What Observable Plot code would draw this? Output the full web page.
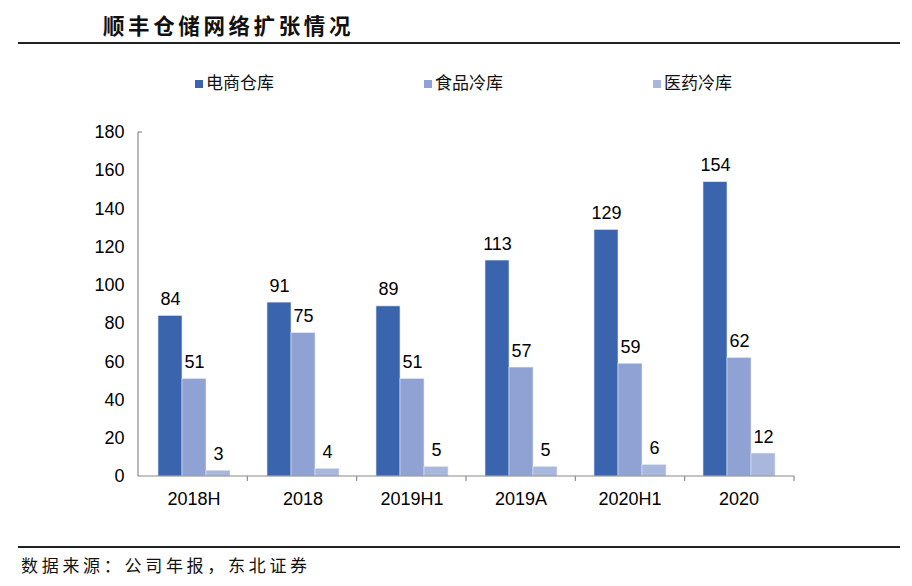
<!DOCTYPE html>
<html>
<head>
<meta charset="utf-8">
<script src="https://cdn.jsdelivr.net/npm/d3@7"></script>
<script src="https://cdn.jsdelivr.net/npm/@observablehq/plot@0.6"></script>
<style>
  html, body { margin: 0; padding: 0; background: #fff; }
  #wrap { position: relative; width: 912px; height: 586px; overflow: hidden; background: #fff; }
  .title { position: absolute; left: 103px; top: 10px; font-family: "Noto Sans CJK SC", sans-serif; font-weight: 700; font-size: 21.5px; letter-spacing: 3.6px; color: #111; line-height: 30px; white-space: nowrap; }
  .hline { position: absolute; left: 18px; width: 882px; background: #222; }
  .source { position: absolute; left: 21px; top: 553px; font-family: "Noto Sans CJK SC", sans-serif; font-size: 17px; letter-spacing: 3.7px; color: #111; line-height: 24px; white-space: nowrap; }
  .legend { position: absolute; top: 71px; font-family: "Noto Sans CJK SC", sans-serif; font-size: 17px; color: #111; line-height: 22px; white-space: nowrap; }
  .legend span.sw { display: inline-block; width: 8px; height: 8px; margin-right: 3px; vertical-align: 1px; }
  #chart { position: absolute; left: 0; top: 100px; }
</style>
</head>
<body>
<div id="wrap">
  <div class="title">顺丰仓储网络扩张情况</div>
  <div class="hline" style="top:42px;height:1.5px;"></div>
  <div id="legend"></div>
  <div id="chart"></div>
  <div class="hline" style="top:546px;height:1.5px;"></div>
  <div class="source">数据来源：公司年报，东北证券</div>
</div>
<script>
const periods = ["2018H", "2018", "2019H1", "2019A", "2020H1", "2020"];
const seriesNames = ["电商仓库", "食品冷库", "医药冷库"];
const ecommerce = [84, 91, 89, 113, 129, 154];
const foodCold = [51, 75, 51, 57, 59, 62];
const pharmaCold = [3, 4, 5, 5, 6, 12];
const yTicks = [0, 20, 40, 60, 80, 100, 120, 140, 160, 180];
const colors = ["#3A64AE", "#8FA2D3", "#A9B7DD"];
const legendX = [195, 424, 653];

const seriesValues = [ecommerce, foodCold, pharmaCold];
const data = [];
periods.forEach((p, i) => {
  seriesNames.forEach((s, j) => data.push({ period: p, series: s, value: seriesValues[j][i] }));
});

// legend
const legend = document.getElementById("legend");
seriesNames.forEach((s, j) => {
  const d = document.createElement("div");
  d.className = "legend";
  d.style.left = legendX[j] + "px";
  d.innerHTML = `<span class="sw" style="background:${colors[j]}"></span>${s}`;
  legend.appendChild(d);
});

const plot = Plot.plot({
  width: 912,
  height: 420,
  marginTop: 32,
  marginBottom: 44,
  marginLeft: 138,
  marginRight: 118,
  style: { fontFamily: "Liberation Sans, Arial, sans-serif", fontSize: "18px", color: "#000", background: "transparent" },
  fx: { domain: periods, padding: 0, axis: "bottom", label: null, tickSize: 0, tickPadding: 16 },
  x: { domain: seriesNames, axis: null, paddingInner: 0, paddingOuter: 0.75 },
  y: { domain: [0, 180], ticks: yTicks, tickSize: 0, tickPadding: 15, label: null, grid: false },
  color: { domain: seriesNames, range: colors },
  marks: [
    Plot.barY(data, { fx: "period", x: "series", y: "value", fill: "series", stroke: "#dfe6f5", strokeWidth: 0.6 }),
    Plot.text(data, { fx: "period", x: "series", y: "value", text: d => String(d.value), lineAnchor: "bottom", dy: -11, fontSize: 18, fill: "#000" })
  ]
});
document.getElementById("chart").appendChild(plot);

// axis lines and group boundary ticks from the plot's own scales
const fxS = plot.scale("fx");
const yS = plot.scale("y");
const band = d3.scaleBand().domain(fxS.domain).range(fxS.range).padding(0);
const yLin = d3.scaleLinear().domain(yS.domain).range(yS.range);
const svg = d3.select(plot);
const g = svg.append("g").attr("stroke", "#8a8a8a").attr("stroke-width", 1.2).attr("fill", "none");
const x0 = band.range()[0], x1 = band.range()[1];
g.append("line").attr("x1", x0).attr("x2", x0).attr("y1", yLin(0)).attr("y2", yLin(180));
g.append("line").attr("x1", x0).attr("x2", x0 + 4).attr("y1", yLin(180)).attr("y2", yLin(180));
g.append("line").attr("x1", x0).attr("x2", x1).attr("y1", yLin(0)).attr("y2", yLin(0));
const bounds = periods.map(p => band(p)).concat([band(periods[periods.length - 1]) + band.bandwidth()]);
bounds.slice(1).forEach(b => {
  g.append("line").attr("x1", b).attr("x2", b).attr("y1", yLin(0)).attr("y2", yLin(0) + 5);
});
</script>
</body>
</html>
